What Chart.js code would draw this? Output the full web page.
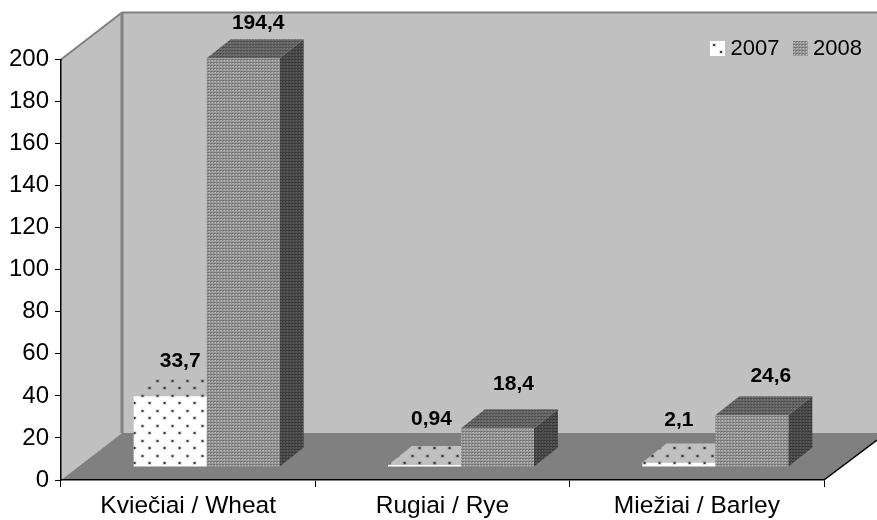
<!DOCTYPE html>
<html>
<head>
<meta charset="utf-8">
<style>
    html, body { margin: 0; padding: 0; background: #fff; }
    canvas { display: block; }
</style>
<script src="https://cdn.jsdelivr.net/npm/chart.js@4/dist/chart.umd.min.js"></script>
</head>
<body>
<canvas id="grain-chart" width="877" height="520"></canvas>
<script>
const categories = ['Kviečiai / Wheat', 'Rugiai / Rye', 'Miežiai / Barley'];
const seriesNames = ['2007', '2008'];
const values2007 = [33.7, 0.94, 2.1];
const values2008 = [194.4, 18.4, 24.6];

const FONT = '"Liberation Sans", Arial, sans-serif';

// 3d look: how far the bars sit in from the front of the box, and their depth
const barShift = { x: 18.5, y: -13 };
const barDepth = { x: 24, y: -19 };
const wallDepth = { x: 61, y: -47 };

// where each value label sits compared to the middle of its bar top
const labelNudge = [
    [[10, -35], [7, -46], [0, -42]],
    [[15, -35], [16, -44], [19, -39]]
];

function makeTile(w, h, paint) {
    const tile = document.createElement('canvas');
    tile.width = w;
    tile.height = h;
    paint(tile.getContext('2d'));
    return tile;
}

function paintDots(c) {
    [[3, 3], [10, 10]].forEach((p) => {
        c.fillStyle = 'rgba(0, 0, 0, 0.12)';
        c.fillRect(p[0] - 1, p[1] - 1, 4, 4);
        c.fillStyle = '#333';
        c.fillRect(p[0], p[1], 2, 2);
    });
}

function dotTile(bg) {
    return makeTile(15, 15, (c) => {
        c.fillStyle = bg;
        c.fillRect(0, 0, 15, 15);
        paintDots(c);
    });
}

function meshTile(mid, dark, light) {
    return makeTile(3, 3, (c) => {
        c.fillStyle = mid;
        c.fillRect(0, 0, 3, 3);
        c.fillStyle = dark;
        c.fillRect(0, 0, 2, 1);
        c.fillRect(0, 0, 1, 2);
        c.fillStyle = light;
        c.fillRect(1, 1, 1, 1);
    });
}

const ctx = document.getElementById('grain-chart').getContext('2d');
const pattern = (tile) => ctx.createPattern(tile, 'repeat');

const faces = [
    { front: pattern(dotTile('#ffffff')), top: pattern(dotTile('#c0c0c0')), side: pattern(dotTile('#c0c0c0')) },
    {
        front: pattern(meshTile('#9c9c9c', '#6a6a6a', '#dddddd')),
        top: pattern(meshTile('#6a6a6a', '#444444', '#8c8c8c')),
        side: pattern(meshTile('#4e4e4e', '#303030', '#707070'))
    }
];
const legendIcons = [
    dotTile('#ffffff'),
    makeTile(15, 15, (c) => {
        c.fillStyle = c.createPattern(meshTile('#9c9c9c', '#6a6a6a', '#dddddd'), 'repeat');
        c.fillRect(0, 0, 15, 15);
    })
];

function poly(c, fill, pts) {
    c.beginPath();
    pts.forEach((p, i) => (i ? c.lineTo(p[0], p[1]) : c.moveTo(p[0], p[1])));
    c.closePath();
    c.fillStyle = fill;
    c.fill();
}

function line(c, color, width, from, to) {
    c.beginPath();
    c.moveTo(from[0], from[1]);
    c.lineTo(to[0], to[1]);
    c.strokeStyle = color;
    c.lineWidth = width;
    c.stroke();
}

const box3d = {
    id: 'box3d',
    beforeLayout(chart) {
        // fixed legend height so the plot area always starts at the same place
        chart.legend.afterFit = function () { this.height = 47; };
    },
    afterLayout(chart) {
        // the legend is placed over the back wall, top right
        const legend = chart.legend;
        const h = legend.height;
        legend.right = 880.5;
        legend.left = 880.5 - legend.width;
        legend.top = 19;
        legend.bottom = 19 + h;
    },
    beforeDraw(chart) {
        const c = chart.ctx;
        const { left, right, top, bottom } = chart.chartArea;
        const backX = left + wallDepth.x;
        const backBottom = bottom + wallDepth.y;
        const backTop = top + wallDepth.y;
        const w = chart.width;
        c.save();
        poly(c, '#c0c0c0', [[backX, backTop], [w, backTop], [w, backBottom], [backX, backBottom]]);
        poly(c, '#c0c0c0', [[left, top], [backX, backTop], [backX, backBottom], [left, bottom]]);
        poly(c, '#808080', [[left, bottom], [backX, backBottom], [w, backBottom], [w, bottom - 40], [right, bottom]]);
        line(c, '#808080', 2, [left, top], [backX, backTop]);
        line(c, '#808080', 2, [backX, backTop], [w, backTop]);
        line(c, '#808080', 3, [backX, backTop], [backX, backBottom]);
        line(c, '#000', 1.5, [right, bottom], [w, bottom - 40]);
        c.restore();
    },
    beforeDatasetsDraw(chart) {
        const c = chart.ctx;
        c.save();
        c.translate(barShift.x, barShift.y);
        chart.data.datasets.forEach((ds, d) => {
            chart.getDatasetMeta(d).data.forEach((bar) => {
                const x0 = bar.x - bar.width / 2;
                const x1 = bar.x + bar.width / 2;
                const dx = barDepth.x;
                const dy = barDepth.y;
                poly(c, faces[d].side, [[x1, bar.y], [x1 + dx, bar.y + dy], [x1 + dx, bar.base + dy], [x1, bar.base]]);
                poly(c, faces[d].top, [[x0, bar.y], [x0 + dx, bar.y + dy], [x1 + dx, bar.y + dy], [x1, bar.y]]);
            });
        });
    },
    afterDatasetsDraw(chart) {
        const c = chart.ctx;
        c.restore();
        c.save();
        c.font = 'bold 21px ' + FONT;
        c.fillStyle = '#000';
        c.textAlign = 'center';
        c.textBaseline = 'middle';
        chart.data.datasets.forEach((ds, d) => {
            chart.getDatasetMeta(d).data.forEach((bar, i) => {
                const nudge = labelNudge[d][i];
                const text = String(ds.data[i]).replace('.', ',');
                c.fillText(text, bar.x + barShift.x + nudge[0], bar.y + barShift.y + nudge[1]);
            });
        });
        c.restore();
    }
};

new Chart(ctx, {
    type: 'bar',
    data: {
        labels: categories,
        datasets: [
            { label: seriesNames[0], data: values2007, backgroundColor: faces[0].front },
            { label: seriesNames[1], data: values2008, backgroundColor: faces[1].front }
        ]
    },
    plugins: [box3d],
    options: {
        responsive: false,
        animation: false,
        clip: false,
        layout: { padding: { top: 9, right: 53, left: 0, bottom: 0 } },
        datasets: { bar: { barPercentage: 1, categoryPercentage: 0.574, borderWidth: 0 } },
        scales: {
            x: {
                border: { color: '#000', width: 1.5 },
                grid: { drawOnChartArea: false, tickLength: 7, color: '#000' },
                ticks: { color: '#000', font: { family: FONT, size: 24.5 }, padding: 5, maxRotation: 0 },
                afterFit(scale) { scale.height = 40; }
            },
            y: {
                min: 0,
                max: 200,
                border: { color: '#000', width: 1.5 },
                grid: { drawOnChartArea: false, tickLength: 6, color: '#000' },
                ticks: { stepSize: 20, color: '#000', font: { family: FONT, size: 24 }, padding: 6 },
                afterFit(scale) { scale.width = 61; }
            }
        },
        plugins: {
            tooltip: { enabled: false },
            legend: {
                position: 'top',
                align: 'end',
                labels: {
                    color: '#000',
                    font: { family: FONT, size: 22 },
                    boxHeight: 15,
                    padding: 18.5,
                    usePointStyle: true,
                    pointStyleWidth: 4,
                    generateLabels(chart) {
                        return chart.data.datasets.map((ds, d) => ({
                            text: ds.label,
                            datasetIndex: d,
                            pointStyle: legendIcons[d],
                            fontColor: '#000',
                            lineWidth: 0
                        }));
                    }
                }
            }
        }
    }
});
</script>
</body>
</html>
